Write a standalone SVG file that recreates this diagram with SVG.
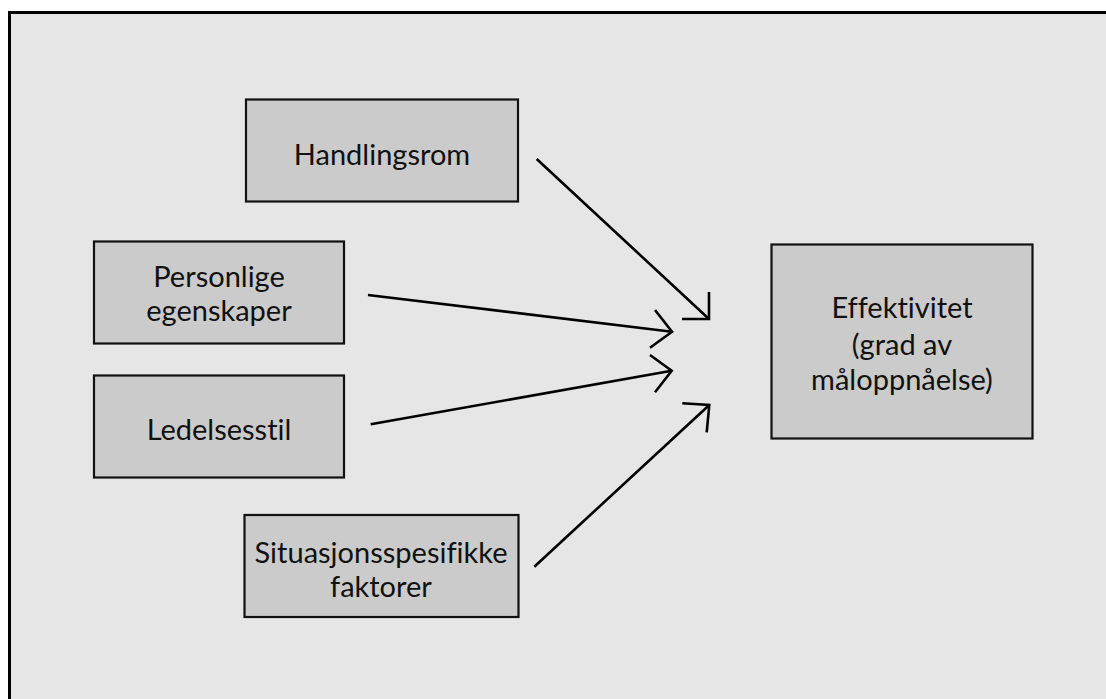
<svg xmlns="http://www.w3.org/2000/svg" width="1106" height="699" viewBox="0 0 1106 699">
<style>
.box{fill:#cbcbcb;stroke:#111;stroke-width:2.2}
.t{font-family:Lato,"Open Sans","Liberation Sans",sans-serif;font-size:29px;fill:#111;text-anchor:middle;font-variant-ligatures:none}
.c{fill:none;stroke:#000;stroke-width:2.6;stroke-linecap:butt;stroke-linejoin:miter}
</style>
<rect x="0" y="0" width="1106" height="699" fill="#ffffff"/>
<rect id="frame" x="9.5" y="12.5" width="1110" height="700" fill="#e6e6e6" stroke="#000" stroke-width="3"/>
<g id="handlingsrom">
<rect class="box" x="246" y="99.5" width="272" height="102"/>
<text class="t" x="382" y="165">Handlingsrom</text>
</g>
<g id="personlige">
<rect class="box" x="94" y="241.5" width="250" height="102"/>
<text class="t" x="219" y="287">Personlige</text>
<text class="t" x="219" y="321">egenskaper</text>
</g>
<g id="ledelsesstil">
<rect class="box" x="94" y="375.5" width="250" height="102"/>
<text class="t" x="219" y="440">Ledelsesstil</text>
</g>
<g id="situasjons">
<rect class="box" x="244.5" y="515" width="274" height="102"/>
<text class="t" x="381" y="563">Situasjonsspesifikke</text>
<text class="t" x="381" y="597">faktorer</text>
</g>
<g id="effektivitet">
<rect class="box" x="771.5" y="244.5" width="261" height="194"/>
<text class="t" x="902" y="318">Effektivitet</text>
<text class="t" x="902" y="355">(grad av</text>
<text class="t" x="902" y="390">måloppnåelse)</text>
</g>
<g id="connectors">
<line class="c" x1="536.7" y1="159" x2="709" y2="319"/>
<polyline class="c" points="709,292 709,319 682,319"/>
<line class="c" x1="368" y1="295" x2="672" y2="331.7"/>
<polyline class="c" points="655,310 672,331.7 650,347.7"/>
<line class="c" x1="370.7" y1="424.3" x2="671.7" y2="370.7"/>
<polyline class="c" points="650,355 671.7,370.7 655,392.3"/>
<line class="c" x1="534.3" y1="566.7" x2="709.3" y2="405"/>
<polyline class="c" points="682.3,403.3 709.3,405 706.7,432.3"/>
</g>
</svg>
